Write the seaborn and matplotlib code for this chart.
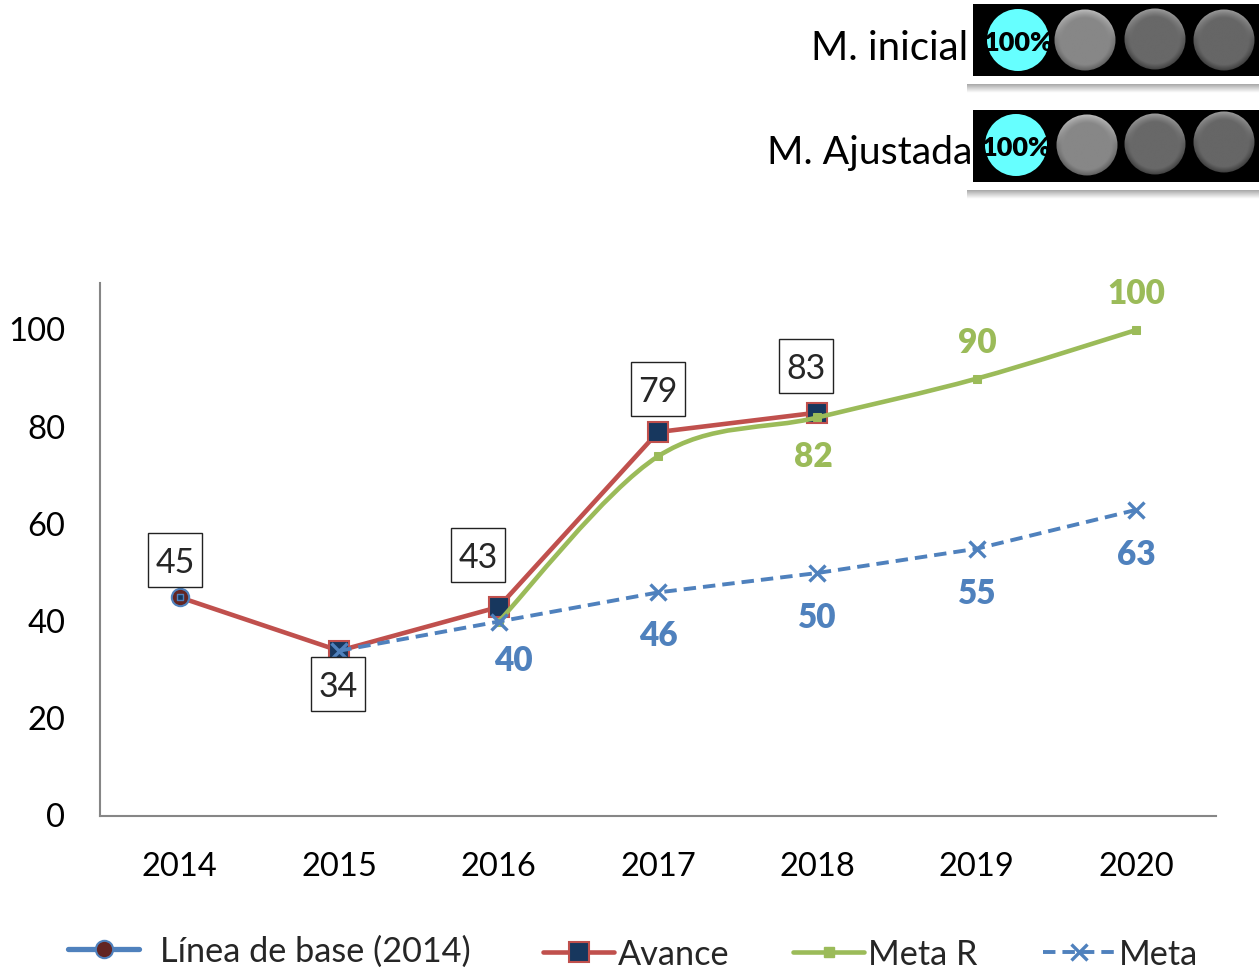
import numpy as np
import pandas as pd
import seaborn as sns
import matplotlib.pyplot as plt
from matplotlib.lines import Line2D
from matplotlib.patches import Circle, PathPatch, Rectangle
from matplotlib.path import Path
from matplotlib.transforms import ScaledTranslation

W, H = 1259, 970

years = [2014, 2015, 2016, 2017, 2018, 2019, 2020]
base_years = [2014]
base_values = [45]
avance_years = [2014, 2015, 2016, 2017, 2018]
avance_values = [45, 34, 43, 79, 83]
metar_years = [2016, 2017, 2018, 2019, 2020]
metar_values = [40, 74, 82, 90, 100]
meta_years = [2015, 2016, 2017, 2018, 2019, 2020]
meta_values = [34, 40, 46, 50, 55, 63]
yticks = [0, 20, 40, 60, 80, 100]

legend_labels = ['Línea de base (2014)', 'Avance', 'Meta R', 'Meta']
panel_labels = ['M. inicial', 'M. Ajustada']
panel_texts = ['100%', '100%']

BLUE = '#4F81BD'
RED = '#C0504D'
GREEN = '#9BBB59'
NAVY = '#17375E'
WINE = '#632523'

sns.set_style('white')
plt.rcParams['font.family'] = ['Lato', 'DejaVu Sans']

fig = plt.figure(figsize=(W / 100, H / 100), dpi=100)
ax = fig.add_axes([100 / W, (H - 817) / H, (1216 - 100) / W, (817 - 284) / H])


def frame(xs, vals):
    return pd.DataFrame({'anio': xs, 'valor': vals})


def smooth_path(xs, vals):
    # curva suavizada como la de Excel, con los valores como nudos
    p = np.column_stack([xs, vals]).astype(float)
    verts = [p[0]]
    codes = [Path.MOVETO]
    for i in range(len(p) - 1):
        t0 = (p[i + 1] - p[max(i - 1, 0)]) / 6
        t1 = (p[min(i + 2, len(p) - 1)] - p[i]) / 6
        verts += [p[i] + t0, p[i + 1] - t1, p[i + 1]]
        codes += [Path.CURVE4] * 3
    return Path(verts, codes)


def square_box(x0, y0, w, h, mutation_size):
    # recuadro cuadrado de 54 px alrededor del texto
    cx, cy = x0 + w / 2 - 0.5, y0 + h / 2 + 2
    s = 27
    return Path([(cx - s, cy - s), (cx + s, cy - s), (cx + s, cy + s), (cx - s, cy + s),
                 (cx - s, cy - s)], closed=True)


sns.lineplot(data=frame(avance_years, avance_values), x='anio', y='valor', ax=ax,
             color=RED, lw=3.3, marker='s', ms=14, mfc=NAVY, mec=RED, mew=1.5,
             markevery=[1, 2, 3, 4], zorder=3)
sns.lineplot(data=frame(base_years, base_values), x='anio', y='valor', ax=ax,
             color=BLUE, lw=3, marker='o', ms=12.5, mfc=WINE, mec=BLUE, mew=1.5, zorder=4)
sns.scatterplot(data=frame(base_years, base_values), x='anio', y='valor', ax=ax,
                color=NAVY, edgecolor=BLUE, linewidth=1, marker='s', s=14, zorder=5)
ax.add_patch(PathPatch(smooth_path(metar_years, metar_values), fc='none', ec=GREEN,
                       lw=3.3, zorder=6))
sns.lineplot(data=frame(metar_years, metar_values), x='anio', y='valor', ax=ax,
             color=GREEN, linestyle='', marker='s', ms=6, mec=GREEN, zorder=7)
sns.lineplot(data=frame(meta_years, meta_values), x='anio', y='valor', ax=ax,
             color=BLUE, lw=2.8, linestyle=(0, (3.2, 1.8)), marker='x', ms=11, mew=2.4,
             mec=BLUE, zorder=8)

ax.set_xlim(2013.5, 2020.5)
ax.set_ylim(0, 109.67)
ax.set_xticks(years)
ax.set_yticks(yticks)
ax.set_xlabel('')
ax.set_ylabel('')
ax.tick_params(axis='x', length=0, pad=25.5, labelsize=23.5, colors='black')
ax.tick_params(axis='y', length=0, pad=25, labelsize=23.6, colors='black')
ax.grid(False)
sns.despine(ax=ax)
for side in ['left', 'bottom']:
    ax.spines[side].set_color('#868686')
    ax.spines[side].set_linewidth(1.5)
for lab in ax.get_yticklabels():
    lab.set_transform(lab.get_transform() + ScaledTranslation(0, 1.2 / 72, fig.dpi_scale_trans))

# etiquetas con recuadro de Avance
box_offsets = [(-4, 35), (-1, -35), (-20, 50), (0, 41), (-11, 45)]
for x, v, off in zip(avance_years, avance_values, box_offsets):
    ax.annotate(str(v), (x, v), xytext=off, textcoords='offset pixels', ha='center',
                va='center', fontsize=24.5, zorder=9,
                bbox=dict(boxstyle=square_box, fc='white', ec='#222222', lw=1))

metar_offsets = [(0, 36), (0, 37), (0, 37)]
for x, v, off in zip(metar_years[2:], metar_values[2:], metar_offsets):
    if v == 82:
        off = (-4, -39)
    ax.annotate(str(v), (x, v), xytext=off, textcoords='offset pixels', ha='center',
                va='center', fontsize=24, fontweight='heavy', color=GREEN)

meta_offsets = [(15, -38), (0, -43), (0, -44), (0, -44), (0, -44)]
for x, v, off in zip(meta_years[1:], meta_values[1:], meta_offsets):
    ax.annotate(str(v), (x, v), xytext=off, textcoords='offset pixels', ha='center',
                va='center', fontsize=24, fontweight='heavy', color=BLUE)

# leyenda, cada entrada en su sitio
handles = [
    Line2D([], [], color=BLUE, lw=3.8, marker='o', ms=12.5, mfc=WINE, mec=BLUE, mew=1.5),
    Line2D([], [], color=RED, lw=3.3, marker='s', ms=14, mfc=NAVY, mec=RED, mew=1.5),
    Line2D([], [], color=GREEN, lw=3.3, marker='s', ms=7, mec=GREEN),
    Line2D([], [], color=BLUE, lw=2.8, linestyle=(0, (3.2, 1.8)), marker='x', ms=11, mew=2.4),
]
leg_x = [68, 543, 793, 1043]
leg_y = [952, 955, 955, 955]
leg_pad = [0.6, 0.1, 0.12, 0.12]
for h, lab, lx, ly, pad in zip(handles, legend_labels, leg_x, leg_y, leg_pad):
    fig.legend([h], [lab], loc='center left', bbox_to_anchor=(lx / W, (H - ly) / H),
               frameon=False, fontsize=24.7, borderpad=0, borderaxespad=0,
               handlelength=2.08, handletextpad=pad)

# semaforos de arriba, en pixeles de la figura
top = fig.add_axes([0, 0, 1, 1], zorder=10)
top.patch.set_alpha(0)
top.axis('off')


def glossy(cx, cy, r, level):
    yy, xx = np.mgrid[-1:1:120j, -1:1:120j]
    d = np.hypot(xx, yy)
    img = np.full(xx.shape, level)
    img += 0.22 * np.clip((d - 0.72) / 0.28, 0, 1) * np.clip(-yy, 0, 1)
    img -= 0.16 * np.clip((d - 0.8) / 0.2, 0, 1) * np.clip(yy + 0.4, 0, 1)
    im = top.imshow(img, cmap='gray', vmin=0, vmax=1, aspect='auto',
                    extent=(cx - r, cx + r, cy + r, cy - r), zorder=3)
    im.set_clip_path(Circle((cx, cy), r - 0.5, transform=top.transData))


bars = [(5, 77), (111, 183)]
cyan = [(1018, 41), (1016, 146)]
greys = [[(1085, 41, .53), (1155, 40, .41), (1224, 41, .40)],
         [(1087, 146, .53), (1155, 145, .41), (1224, 143, .40)]]
text_pos = [(968, 49), (972, 153)]
text_size = [29, 28.3]
for (y0, y1), c, gs, tp, ts, lab, pct in zip(bars, cyan, greys, text_pos, text_size, panel_labels, panel_texts):
    shadow = (np.linspace(0.55, 1, 24) ** 0.7)[:, None]
    top.imshow(shadow, cmap='gray', vmin=0, vmax=1, aspect='auto',
               extent=(967, W, y1 + 17, y1 + 8), zorder=1)
    top.add_patch(Rectangle((973, y0), W - 973, y1 - y0, fc='black', ec='none', zorder=2))
    top.add_patch(Circle(c, 31, fc='#66FFFF', ec='none', zorder=3))
    for gx, gy, lv in gs:
        glossy(gx, gy, 31, lv)
    top.text(c[0], c[1] + 2, pct, ha='center', va='center', fontsize=19.5, fontweight='heavy',
             color='black', zorder=4)
    top.text(tp[0], tp[1], lab, ha='right', va='center', fontsize=ts, color='black', zorder=4)
top.set_xlim(0, W)
top.set_ylim(H, 0)

fig.savefig('out.png', dpi=100, facecolor='white')
